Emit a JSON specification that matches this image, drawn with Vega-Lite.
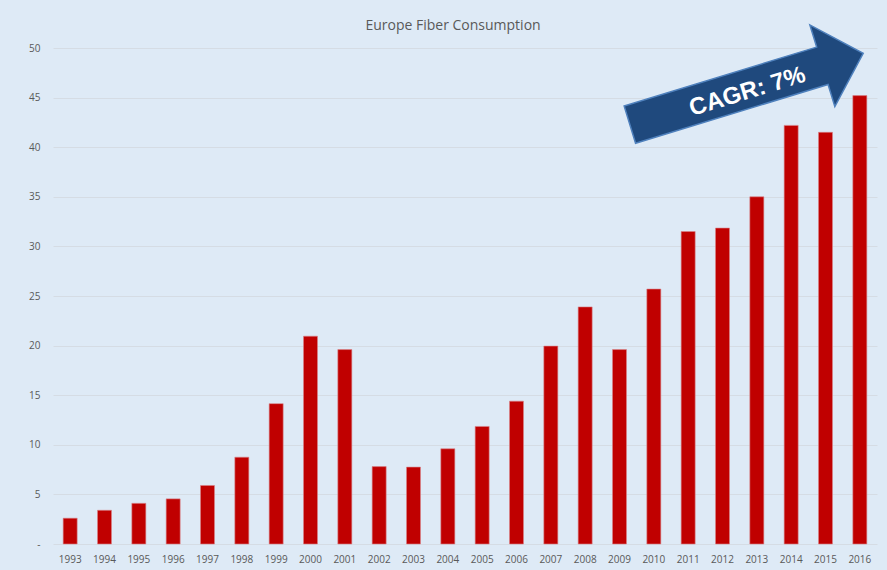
{
  "$schema": "https://vega.github.io/schema/vega-lite/v6.json",
  "width": 824,
  "height": 496,
  "autosize": {"type": "none"},
  "padding": {"left": 53, "top": 48, "right": 10, "bottom": 26},
  "background": "#DEEAF6",
  "title": {
    "text": "Europe Fiber Consumption",
    "font": "Open Sans",
    "fontSize": 14,
    "fontWeight": "normal",
    "color": "#595959",
    "offset": 16,
    "dy": 27,
    "dx": -12
  },
  "config": {
    "view": {"stroke": null},
    "axis": {"labelFont": "Open Sans", "labelFontSize": 10, "labelColor": "#595959"}
  },
  "layer": [
    {
      "data": {
        "values": [
          {"year": "1993", "value": 2.6},
          {"year": "1994", "value": 3.4},
          {"year": "1995", "value": 4.1},
          {"year": "1996", "value": 4.55},
          {"year": "1997", "value": 5.9},
          {"year": "1998", "value": 8.75},
          {"year": "1999", "value": 14.15},
          {"year": "2000", "value": 20.95},
          {"year": "2001", "value": 19.6},
          {"year": "2002", "value": 7.8},
          {"year": "2003", "value": 7.75},
          {"year": "2004", "value": 9.6},
          {"year": "2005", "value": 11.85},
          {"year": "2006", "value": 14.4},
          {"year": "2007", "value": 19.95},
          {"year": "2008", "value": 23.9},
          {"year": "2009", "value": 19.6},
          {"year": "2010", "value": 25.7},
          {"year": "2011", "value": 31.5},
          {"year": "2012", "value": 31.85},
          {"year": "2013", "value": 35.0},
          {"year": "2014", "value": 42.2},
          {"year": "2015", "value": 41.5},
          {"year": "2016", "value": 45.2}
        ]
      },
      "mark": {"type": "bar", "color": "#C00000", "width": 14, "stroke": "#D9848A", "strokeWidth": 0.6},
      "encoding": {
        "x": {
          "field": "year",
          "type": "nominal",
          "sort": null,
          "scale": {"paddingInner": 0, "paddingOuter": 0},
          "axis": {"title": null, "labelAngle": 0, "ticks": false, "domain": false, "labelPadding": 10}
        },
        "y": {
          "field": "value",
          "type": "quantitative",
          "scale": {"domain": [0, 50], "nice": false},
          "axis": {
            "title": null,
            "values": [0, 5, 10, 15, 20, 25, 30, 35, 40, 45, 50],
            "labelExpr": "datum.value == 0 ? '-' : datum.label",
            "ticks": false,
            "domain": false,
            "gridColor": "#D5DCE4",
            "gridWidth": 1.2,
            "labelPadding": 13
          }
        }
      }
    },
    {
      "data": {"values": [{"pos": 2012.7, "level": 45.87, "label": "CAGR:  7%"}]},
      "layer": [
        {
          "mark": {
            "type": "point",
            "shape": "M-1,-0.16L0.65,-0.16L0.65,-0.35L1,0L0.65,0.35L0.65,0.16L-1,0.16Z",
            "size": 59536,
            "angle": -17,
            "filled": true,
            "fill": "#1F497D",
            "fillOpacity": 1,
            "opacity": 1,
            "stroke": "#4F81BD",
            "strokeWidth": 1.5
          },
          "encoding": {
            "x": {"field": "pos", "type": "quantitative", "scale": {"domain": [1992.5, 2016.5], "nice": false, "zero": false}, "axis": null},
            "y": {"field": "level", "type": "quantitative"}
          }
        },
        {
          "mark": {
            "type": "text",
            "font": "Liberation Sans",
            "fontWeight": "bold",
            "fontSize": 24,
            "color": "white",
            "angle": -17,
            "align": "center",
            "baseline": "middle",
            "dy": 3
          },
          "encoding": {
            "x": {"field": "pos", "type": "quantitative", "scale": {"domain": [1992.5, 2016.5], "nice": false, "zero": false}, "axis": null},
            "y": {"field": "level", "type": "quantitative"},
            "text": {"field": "label"}
          }
        }
      ]
    }
  ],
  "resolve": {"scale": {"x": "independent"}}
}
